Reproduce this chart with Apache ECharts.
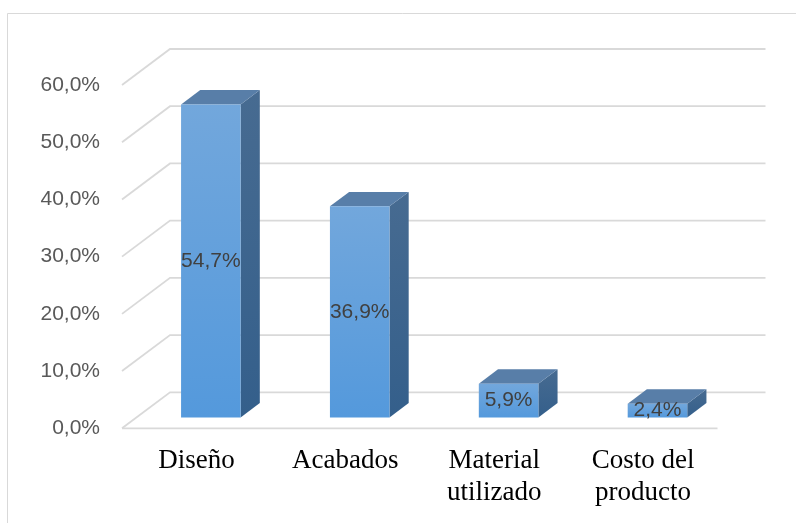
<!DOCTYPE html>
<html>
<head>
<meta charset="utf-8">
<script src="https://cdn.jsdelivr.net/npm/echarts@6/dist/echarts.min.js"></script>
<style>
  html, body { margin: 0; padding: 0; background: #ffffff; }
  #chart { width: 796px; height: 523px; }
</style>
</head>
<body>
<div id="chart"></div>
<script>
// Categories and their shares (percent)
const categories = ['Diseño', 'Acabados', 'Material\nutilizado', 'Costo del\nproducto'];
const values = [54.7, 36.9, 5.9, 2.4];
// Value-axis ticks (percent)
const tickValues = [0, 10, 20, 30, 40, 50, 60];

// Oblique projection of the depth axis: screen offset for the full floor depth
const DEPTH_X = 48;
const DEPTH_Y = -36;
// Bars sit part-way back on the floor and take up part of its depth
const BAR_DEPTH_START = 0.3;
const BAR_DEPTH = 0.4;
const BAR_WIDTH_RATIO = 0.4;

const fmt = v => v.toFixed(1).replace('.', ',') + '%';

// Back wall gridlines, left-side diagonals and the floor's front edge
function renderWall(params, api) {
  const cs = params.coordSys;
  const v = api.value(1);
  const y = api.coord([0, v])[1];
  const x0 = cs.x;
  const x1 = cs.x + cs.width;
  const style = { stroke: '#d9d9d9', lineWidth: 1.8, fill: null };
  const children = [{
    type: 'polyline',
    shape: { points: [[x0, y], [x0 + DEPTH_X, y + DEPTH_Y], [x1 + DEPTH_X, y + DEPTH_Y]] },
    style: style
  }];
  if (v === 0) {
    children.push({ type: 'line', shape: { x1: x0, y1: y, x2: x1, y2: y }, style: style });
  }
  return { type: 'group', children: children };
}

// Prism-shaped column: front face, right side and top
function renderBar(params, api) {
  const i = api.value(0);
  const v = api.value(1);
  const base = api.coord([i, 0]);
  const top = api.coord([i, v]);
  const w = api.size([1, 0])[0] * BAR_WIDTH_RATIO;
  const ox = DEPTH_X * BAR_DEPTH_START, oy = DEPTH_Y * BAR_DEPTH_START;
  const dx = DEPTH_X * BAR_DEPTH, dy = DEPTH_Y * BAR_DEPTH;
  const l = base[0] - w / 2 + ox;
  const r = base[0] + w / 2 + ox;
  const t = top[1] + oy;
  const b = base[1] + oy;
  return {
    type: 'group',
    children: [
      {
        type: 'polygon',
        shape: { points: [[r, t], [r + dx, t + dy], [r + dx, b + dy], [r, b]] },
        style: {
          fill: new echarts.graphic.LinearGradient(0, 0, 0, 1, [
            { offset: 0, color: '#476b91' },
            { offset: 1, color: '#345f8b' }
          ])
        }
      },
      {
        type: 'polygon',
        shape: { points: [[l, t], [l + dx, t + dy], [r + dx, t + dy], [r, t]] },
        style: { fill: '#587ea8' }
      },
      {
        type: 'rect',
        shape: { x: l, y: t, width: r - l, height: b - t },
        style: {
          fill: new echarts.graphic.LinearGradient(0, 0, 0, 1, [
            { offset: 0, color: '#72a7dc' },
            { offset: 1, color: '#5499dc' }
          ])
        }
      },
      {
        type: 'text',
        style: {
          x: (l + r) / 2,
          y: (t + b) / 2,
          text: fmt(v),
          align: 'center',
          verticalAlign: 'middle',
          fill: '#404040',
          font: '21px "Liberation Sans", Arial, sans-serif'
        }
      }
    ]
  };
}

const chart = echarts.init(document.getElementById('chart'), null, { renderer: 'canvas' });

chart.setOption({
  animation: false,
  backgroundColor: '#ffffff',
  graphic: [{
    type: 'rect',
    silent: true,
    shape: { x: 7.5, y: 13.5, width: 900, height: 600 },
    style: { fill: 'none', stroke: '#d9d9d9', lineWidth: 1 }
  }],
  grid: { left: 122, right: 78.5, top: 85, bottom: 94.7, containLabel: false },
  xAxis: {
    type: 'category',
    data: categories,
    axisLine: { show: false },
    axisTick: { show: false },
    splitLine: { show: false },
    axisLabel: {
      interval: 0,
      margin: 17,
      color: '#000000',
      fontFamily: '"Liberation Serif", "Times New Roman", serif',
      fontSize: 27,
      lineHeight: 32
    }
  },
  yAxis: {
    type: 'value',
    min: 0,
    max: 60,
    interval: 10,
    axisLine: { show: false },
    axisTick: { show: false },
    splitLine: { show: false },
    axisLabel: {
      margin: 22,
      color: '#595959',
      fontFamily: '"Liberation Sans", Arial, sans-serif',
      fontSize: 21,
      formatter: fmt
    }
  },
  series: [
    {
      type: 'custom',
      silent: true,
      z: 1,
      renderItem: renderWall,
      data: tickValues.map(v => [0, v])
    },
    {
      type: 'custom',
      silent: true,
      z: 2,
      renderItem: renderBar,
      data: values.map((v, i) => [i, v])
    }
  ]
});
</script>
</body>
</html>
